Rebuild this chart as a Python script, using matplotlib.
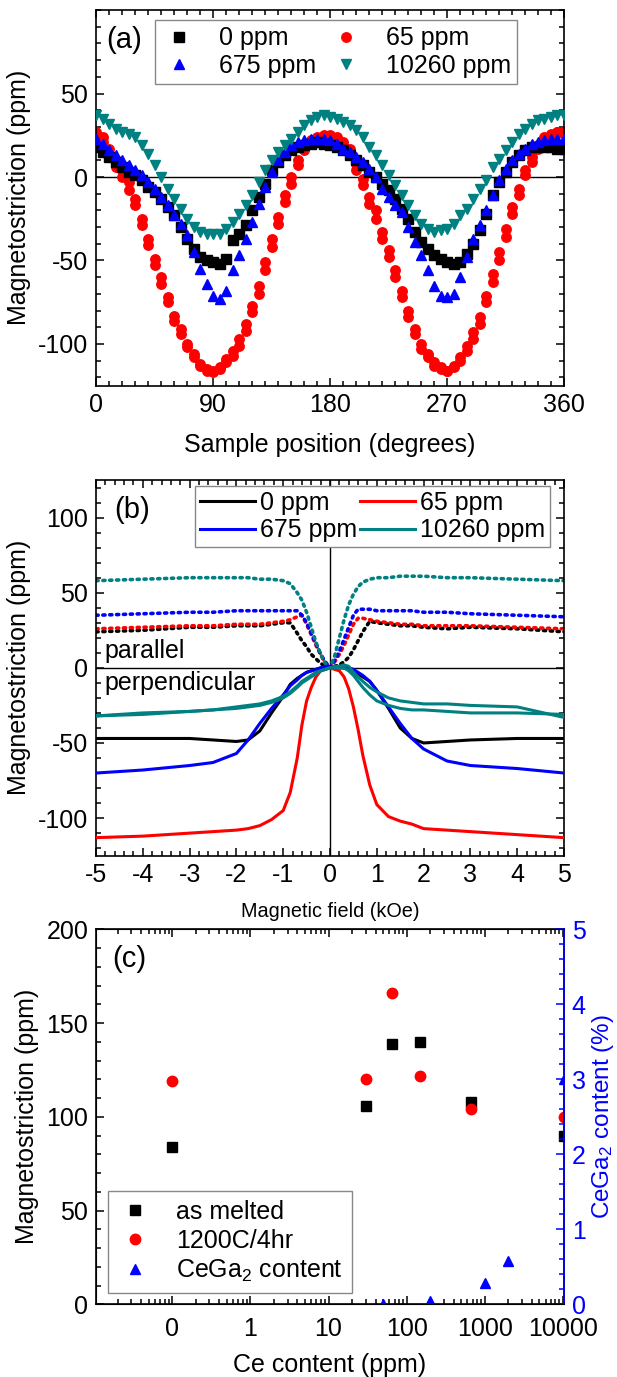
import matplotlib
matplotlib.use("Agg")
import matplotlib.pyplot as plt
from matplotlib.ticker import MultipleLocator, FixedLocator, LogLocator, NullFormatter, FuncFormatter

plt.rcParams['font.family'] = ['Liberation Sans', 'DejaVu Sans']
plt.rcParams['mathtext.fontset'] = 'custom'
plt.rcParams['mathtext.rm'] = 'Liberation Sans'
plt.rcParams['mathtext.it'] = 'Liberation Sans:italic'
plt.rcParams['axes.unicode_minus'] = False
plt.rcParams['font.size'] = 18

TEAL = '#008080'
FS = 18

## (a) magnetostriction vs sample rotation
angle = list(range(0, 361, 5))
rot_0 = [18, 15, 12, 9, 6, 3, 1, -2, -6, -9, -13, -18, -23, -30, -37, -43, -48, -50, -51, -52,
         -49, -38, -34, -29, -20, -12, -4, 4, 9, 13, 16, 18, 19, 20, 21, 20, 19, 18, 16, 13,
         10, 7, 3, 0, -4, -8, -13, -19, -25, -33, -39, -43, -47, -49, -51, -52, -51, -46, -40, -32,
         -22, -11, -3, 3, 9, 13, 16, 18, 18, 18, 18, 17, 17]
rot_65 = [27, 24, 17, 10, 4, -3, -13, -25, -37, -49, -60, -72, -83, -91, -100, -106, -112, -115, -117, -115,
          -111, -107, -101, -92, -81, -70, -56, -42, -28, -15, -4, 7, 16, 21, 23, 24, 25, 24, 21, 17,
          8, -1, -12, -20, -33, -44, -56, -68, -80, -91, -100, -106, -111, -114, -116, -114, -110, -104, -97, -88,
          -75, -63, -50, -36, -22, -11, 1, 9, 17, 22, 25, 27, 27]
rot_65_back = [26, 21, 14, 6, 0, -8, -17, -29, -41, -53, -64, -75, -86, -94, -102, -108, -113, -116, -116, -114,
               -109, -104, -97, -88, -77, -65, -51, -37, -24, -11, 0, 10, 18, 22, 24, 25, 24, 23, 19, 13,
               4, -5, -16, -25, -37, -48, -60, -72, -84, -94, -103, -108, -113, -115, -116, -113, -108, -101, -93, -84,
               -71, -58, -45, -31, -18, -7, 4, 12, 19, 24, 26, 27, 26]
rot_675 = [23, 20, 16, 13, 10, 7, 4, 1, -3, -7, -12, -17, -23, -28, -35, -45, -55, -64, -71, -73,
           -68, -56, -47, -37, -27, -16, -6, 3, 10, 15, 19, 21, 22, 23, 23, 23, 22, 20, 17, 15,
           12, 9, 5, 0, -7, -12, -17, -21, -30, -39, -47, -56, -65, -71, -72, -70, -60, -48, -37, -29,
           -20, -11, -2, 5, 10, 14, 17, 20, 21, 22, 23, 23, 23]
rot_10260 = [37, 35, 32, 29, 27, 26, 24, 19, 14, 7, 0, -7, -13, -19, -25, -30, -33, -34, -34, -34,
             -31, -27, -22, -17, -11, -3, 4, 10, 15, 19, 23, 27, 31, 34, 36, 37, 36, 35, 33, 31,
             28, 24, 18, 13, 7, 1, -5, -11, -17, -23, -28, -31, -33, -32, -31, -28, -23, -19, -13, -7,
             -2, 6, 11, 16, 21, 26, 29, 32, 34, 35, 36, 37, 37]

## (b) magnetostriction vs field
field = [-5, -4, -3, -2.5, -2, -1.75, -1.5, -1.25, -1, -0.85, -0.7, -0.6, -0.5, -0.4, -0.3, -0.2, -0.1, 0,
         0.1, 0.2, 0.3, 0.4, 0.5, 0.6, 0.7, 0.85, 1, 1.25, 1.5, 1.75, 2, 2.5, 3, 4, 5]
par_0 = [24, 25, 27, 27, 28, 28, 28, 29, 30, 30, 23, 18, 14, 9, 6, 3, 1, 0,
         1, 2, 4, 7, 12, 18, 24, 31, 30, 29, 28, 28, 27, 26, 27, 26, 24]
par_65 = [26, 27, 28, 28, 29, 29, 29, 30, 31, 32, 34, 35, 29, 22, 15, 9, 3, 0,
          4, 9, 15, 22, 29, 33, 33, 32, 31, 30, 29, 29, 28, 28, 28, 27, 26]
par_675 = [35, 36, 37, 37, 38, 38, 38, 38, 38, 38, 38, 35, 30, 23, 16, 9, 4, 0,
           5, 11, 19, 27, 35, 39, 39, 39, 38, 38, 38, 38, 37, 37, 36, 35, 34]
par_10260 = [58, 59, 60, 60, 60, 60, 59, 59, 58, 56, 50, 45, 37, 27, 17, 9, 3, 0,
             8, 20, 32, 42, 49, 54, 57, 59, 60, 60, 61, 61, 61, 60, 60, 59, 58]
perp_0 = [-47, -47, -47, -48, -49, -48, -42, -30, -19, -11, -7, -5, -3, -2, -1, 0, 0, 0,
          0, 0, 0, -1, -2, -4, -6, -9, -15, -27, -40, -47, -50, -49, -48, -47, -47]
perp_65 = [-113, -112, -110, -109, -108, -107, -105, -101, -95, -83, -60, -38, -22, -13, -6, -2, -1, 0,
           -1, -2, -6, -14, -26, -41, -58, -78, -91, -99, -102, -104, -107, -108, -109, -111, -113]
perp_675 = [-70, -68, -65, -63, -57, -48, -37, -27, -18, -12, -8, -5, -3, -2, -1, 0, 1, 1,
            1, 1, 0, 0, -1, -3, -5, -9, -15, -26, -37, -47, -54, -62, -65, -67, -70]
perp_10260 = [-32, -31, -29, -28, -26, -25, -24, -22, -19, -16, -12, -9, -7, -5, -3, -2, -1, 0,
              1, 1, 2, 1, -3, -6, -9, -13, -16, -20, -22, -23, -24, -24, -25, -26, -33]
perp_10260_back = [-32, -30, -29, -28, -27, -26, -25, -23, -20, -17, -13, -10, -8, -6, -4, -2, -1, 0,
                   0, 0, 0, -2, -5, -9, -13, -18, -22, -25, -27, -28, -28, -29, -30, -30, -31]

## (c) vs Ce content ("0" ppm drawn at 0.1)
ce_ppm = [0.1, 30, 65, 150, 675, 10260]
lam_melted = [84, 106, 139, 140, 108, 90]
lam_1200C = [119, 120, 166, 122, 104, 100]
cega_ppm = [50, 200, 1000, 2000, 10260]
cega_pct = [0, 0.05, 0.28, 0.58, 3.0]

fig = plt.figure(figsize=(6.17, 13.77), dpi=100)
L, W, H = 0.1556, 0.7585, 0.2728
axa = fig.add_axes([L, 0.7199, W, H])
axb = fig.add_axes([L, 0.3786, W, H])
axc = fig.add_axes([L, 0.0528, W, 0.2723])


def frame(ax, right=True):
    for s in ax.spines.values():
        s.set_linewidth(1.2)
    ax.tick_params(which='both', direction='in', top=True, right=right, width=1.1, labelsize=FS)
    ax.tick_params(axis='x', which='both', pad=5)
    ax.tick_params(axis='y', which='both', pad=5.5)
    ax.tick_params(which='major', length=6)
    ax.tick_params(which='minor', length=3.5)


# ---- (a)
axa.axhline(0, color='black', lw=1, zorder=1)
axa.plot(angle, rot_65, 'o', color='red', ms=6.8, mec='red', zorder=2)
axa.plot(angle, rot_65_back, 'o', color='red', ms=6.8, mec='red', zorder=2)
axa.plot(angle, rot_0, 's', color='black', ms=6.8, zorder=3)
axa.plot(angle, rot_675, '^', color='blue', ms=7.5, zorder=4)
axa.plot(angle, rot_10260, 'v', color=TEAL, ms=7.5, zorder=5)
axa.set_xlim(0, 360)
axa.set_ylim(-125, 100)
axa.xaxis.set_major_locator(MultipleLocator(90))
axa.xaxis.set_minor_locator(MultipleLocator(10))
axa.yaxis.set_major_locator(FixedLocator([-100, -50, 0, 50]))
axa.yaxis.set_minor_locator(MultipleLocator(10))
frame(axa)
axa.set_xlabel('Sample position (degrees)', fontsize=FS)
axa.set_ylabel('Magnetostriction (ppm)', fontsize=FS)
axa.xaxis.set_label_coords(0.5, -0.126)
axa.yaxis.set_label_coords(-0.139, 0.5)
axa.text(0.021, 0.919, '(a)', transform=axa.transAxes, fontsize=21, va='center', ha='left')
ha = [plt.Line2D([], [], ls='', marker=m, color=c, ms=ms) for m, c, ms in
      [('s', 'black', 6.8), ('^', 'blue', 7.5), ('o', 'red', 6.8), ('v', TEAL, 7.5)]]
axa.legend(ha, ['0 ppm', '675 ppm', '65 ppm', '10260 ppm'], ncol=2, loc='upper left',
           bbox_to_anchor=(0.126, 0.973), fontsize=FS, frameon=True, fancybox=False,
           edgecolor='#888888', framealpha=1, handletextpad=0.9, columnspacing=0.5,
           borderpad=0.25, labelspacing=0.15, handlelength=1.4, borderaxespad=0)

# ---- (b)
axb.axhline(0, color='black', lw=1, zorder=1)
axb.axvline(0, color='black', lw=1, zorder=1)
for y, c in [(par_0, 'black'), (par_65, 'red'), (par_675, 'blue'), (par_10260, TEAL)]:
    axb.plot(field, y, ls=(0, (0.6, 1.3)), lw=2.6, color=c, dash_capstyle='round', zorder=2)
lines = []
for y, c in [(perp_0, 'black'), (perp_65, 'red'), (perp_675, 'blue'), (perp_10260, TEAL)]:
    ln, = axb.plot(field, y, '-', lw=2.2, color=c, zorder=3)
    lines.append(ln)
axb.plot(field, perp_10260_back, '-', lw=2.2, color=TEAL, zorder=3)
axb.set_xlim(-5, 5)
axb.set_ylim(-125, 125)
axb.xaxis.set_major_locator(MultipleLocator(1))
axb.xaxis.set_minor_locator(MultipleLocator(0.2))
axb.yaxis.set_major_locator(FixedLocator([-100, -50, 0, 50, 100]))
axb.yaxis.set_minor_locator(MultipleLocator(10))
frame(axb)
axb.set_xlabel('Magnetic field (kOe)', fontsize=14.3)
axb.set_ylabel('Magnetostriction (ppm)', fontsize=FS)
axb.xaxis.set_label_coords(0.5, -0.123)
axb.yaxis.set_label_coords(-0.139, 0.5)
axb.text(0.038, 0.921, '(b)', transform=axb.transAxes, fontsize=21, va='center', ha='left')
axb.text(0.017, 0.545, 'parallel', transform=axb.transAxes, fontsize=FS, va='center', ha='left')
axb.text(0.017, 0.46, 'perpendicular', transform=axb.transAxes, fontsize=FS, va='center', ha='left')
hb = [lines[0], lines[2], lines[1], lines[3]]
leg = axb.legend(hb, ['0 ppm', '675 ppm', '65 ppm', '10260 ppm'], ncol=2, loc='upper left',
                 bbox_to_anchor=(0.212, 0.985), fontsize=FS, frameon=True, fancybox=False,
                 edgecolor='#888888', framealpha=1, handletextpad=0.2, columnspacing=0.1,
                 borderpad=0.2, labelspacing=0.15, handlelength=2.2, borderaxespad=0)
leg.set_zorder(10)

# ---- (c)
axc.set_xscale('log')
axc.plot(ce_ppm, lam_melted, 's', color='black', ms=7, label='as melted')
axc.plot(ce_ppm, lam_1200C, 'o', color='red', ms=7.5, label='1200C/4hr')
axc.set_xlim(0.0106, 10300)
axc.set_ylim(0, 200)
axc.xaxis.set_major_locator(FixedLocator([0.1, 1, 10, 100, 1000, 10000]))
axc.xaxis.set_major_formatter(FuncFormatter(lambda v, p: '0' if v < 0.5 else '%d' % round(v)))
axc.xaxis.set_minor_locator(LogLocator(base=10, subs=range(2, 10), numticks=20))
axc.xaxis.set_minor_formatter(NullFormatter())
axc.yaxis.set_major_locator(MultipleLocator(50))
axc.yaxis.set_minor_locator(MultipleLocator(10))
frame(axc, right=False)
axc.tick_params(axis='x', which='both', pad=9)
axc.set_xlabel('Ce content (ppm)', fontsize=FS)
axc.set_ylabel('Magnetostriction (ppm)', fontsize=FS)
axc.xaxis.set_label_coords(0.5, -0.13)
axc.yaxis.set_label_coords(-0.122, 0.5)
axc.text(0.034, 0.921, '(c)', transform=axc.transAxes, fontsize=21, va='center', ha='left')

ax2 = axc.twinx()
ax2.plot(cega_ppm, cega_pct, '^', color='blue', ms=7.5, label='CeGa$_2$ content')
ax2.set_ylim(0, 5)
ax2.yaxis.set_major_locator(MultipleLocator(1))
ax2.yaxis.set_minor_locator(MultipleLocator(0.2))
ax2.spines['right'].set_color('blue')
ax2.spines['right'].set_linewidth(1.2)
ax2.tick_params(which='both', direction='in', colors='blue', width=1.1, labelsize=FS, pad=5.5)
ax2.tick_params(which='major', length=6)
ax2.tick_params(which='minor', length=3.5)
ax2.set_ylabel('CeGa$_2$ content (%)', color='blue', fontsize=17.5)
ax2.yaxis.set_label_coords(1.055, 0.5)

h1, l1 = axc.get_legend_handles_labels()
h2, l2 = ax2.get_legend_handles_labels()
ax2.legend(h1 + h2, l1 + l2, loc='lower left', bbox_to_anchor=(0.025, 0.03), fontsize=FS,
           frameon=True, fancybox=False, edgecolor='#888888', framealpha=1,
           handletextpad=0.9, borderpad=0.35, labelspacing=0.2, handlelength=1.5, borderaxespad=0)

fig.savefig('out.png', dpi=100)
